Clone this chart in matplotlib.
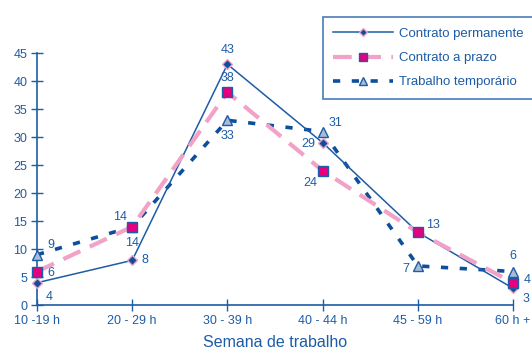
import matplotlib
matplotlib.use("Agg")
import matplotlib.pyplot as plt

plt.rcParams['font.family'] = ['Liberation Sans', 'DejaVu Sans']

categories = ['10 -19 h', '20 - 29 h', '30 - 39 h', '40 - 44 h', '45 - 59 h', '60 h +']
permanente = [4, 8, 43, 29, 13, 3]
prazo = [6, 14, 38, 24, 13, 4]
temporario = [9, 14, 33, 31, 7, 6]

BLUE = '#1d5ca6'
DARK = '#0d4f9c'
PINK = '#f2a2c6'
MAGENTA = '#e5007d'
LIGHT = '#a9bbd9'

# label offsets in points (dx, dy) for each series
off_perm = [(9, -10), (9, 0), (0, 10), (-10, -1), None, (9, -8)]
off_prazo = [(10, -1), (0, -12), (0, 10), (-9, -9), (11, 5), (10, 2)]
off_temp = [(10, 7), (-9, 7), (0, -11), (9, 6), (-9, -2), (0, 11)]

fig = plt.figure(figsize=(5.32, 3.54), dpi=100)
ax = fig.add_axes([0.0695, 0.138, 0.895, 0.712])
x = list(range(len(categories)))

ax.plot(x, temporario, color=DARK, lw=2.6, dashes=(2.0, 3.2),
        marker='^', ms=7, mfc=LIGHT, mec=BLUE, mew=1,
        label='Trabalho temporário', clip_on=False, zorder=3)
ax.plot(x, permanente, color=BLUE, lw=1.1,
        marker='D', ms=5, mfc=DARK, mec=PINK, mew=1,
        label='Contrato permanente', clip_on=False, zorder=4)
ax.plot(x, prazo, color=PINK, lw=3, dashes=(4.5, 2.5),
        marker='s', ms=7.5, mfc=MAGENTA, mec=BLUE, mew=1,
        label='Contrato a prazo', clip_on=False, zorder=5)

for vals, offs in [(permanente, off_perm), (prazo, off_prazo), (temporario, off_temp)]:
    for xi, v, o in zip(x, vals, offs):
        if o is None:
            continue
        ax.annotate(str(v), (xi, v), xytext=o, textcoords='offset points',
                    ha='center', va='center', fontsize=9, color=BLUE)

ax.set_xlim(0, 5)
ax.set_ylim(0, 45)
ax.set_xticks(x)
ax.set_xticklabels(categories)
ax.set_yticks(range(0, 50, 5))
for s in ['top', 'right']:
    ax.spines[s].set_visible(False)
for s in ['left', 'bottom']:
    ax.spines[s].set_color(BLUE)
    ax.spines[s].set_linewidth(1.2)
ax.tick_params(colors=BLUE, labelcolor=BLUE, direction='inout', length=8,
               width=1, labelsize=9, pad=3)
ax.set_xlabel('Semana de trabalho', color=BLUE, fontsize=11.5, labelpad=6)

handles, labels = ax.get_legend_handles_labels()
order = [1, 2, 0]
leg = fig.legend([handles[i] for i in order], [labels[i] for i in order],
                 loc='upper left', bbox_to_anchor=(0.594, 0.97), frameon=True,
                 fancybox=False, fontsize=9.5, handlelength=4.5, borderpad=0.8,
                 labelspacing=0.9, handletextpad=0.5, markerscale=0.8)
leg.get_frame().set_edgecolor(BLUE)
leg.get_frame().set_linewidth(1.2)
for t in leg.get_texts():
    t.set_color(BLUE)

fig.savefig('out.png', dpi=100)
